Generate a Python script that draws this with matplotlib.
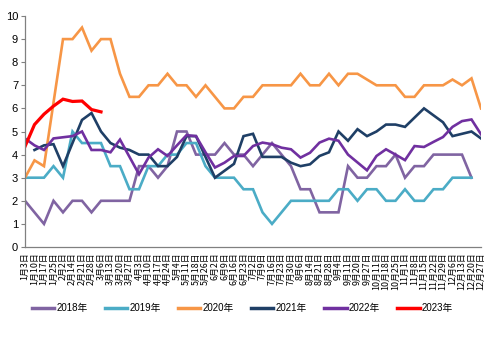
import matplotlib
matplotlib.use("Agg")
import matplotlib.pyplot as plt
import numpy as np

plt.rcParams['font.family'] = ['Liberation Sans', 'Noto Sans CJK SC', 'DejaVu Sans']

dates = ["1月3日", "1月10日", "1月17日", "1月25日", "2月2日", "2月14日", "2月21日", "2月28日",
         "3月6日", "3月13日", "3月20日", "3月27日", "4月3日", "4月10日", "4月17日", "4月24日",
         "5月4日", "5月11日", "5月18日", "5月26日", "6月2日", "6月9日", "6月16日", "6月23日",
         "7月2日", "7月9日", "7月16日", "7月23日", "7月30日", "8月6日", "8月14日", "8月21日",
         "8月28日", "9月4日", "9月11日", "9月20日", "9月27日", "10月11日", "10月18日", "10月25日",
         "11月1日", "11月8日", "11月15日", "11月22日", "11月29日", "12月6日", "12月13日", "12月20日",
         "12月27日"]

y2018 = [2, 1.5, 1, 2, 1.5, 2, 2, 1.5, 2, 2, 2, 2, 3.5, 3.5, 3, 3.5, 5, 5, 4, 4, 4, 4.5, 4, 4,
         3.5, 4, 4.5, 4, 3.5, 2.5, 2.5, 1.5, 1.5, 1.5, 3.5, 3, 3, 3.5, 3.5, 4, 3, 3.5, 3.5, 4, 4,
         4, 4, 3]
y2019 = [3, 3, 3, 3.5, 3, 5, 4.5, 4.5, 4.5, 3.5, 3.5, 2.5, 2.5, 3.5, 3.5, 4, 4, 4.5, 4.5, 3.5,
         3, 3, 3, 2.5, 2.5, 1.5, 1, 1.5, 2, 2, 2, 2, 2, 2.5, 2.5, 2, 2.5, 2.5, 2, 2, 2.5, 2, 2,
         2.5, 2.5, 3, 3, 3]
y2020 = [3, 3.75, 3.5, 6.25, 9, 9, 9.5, 8.5, 9, 9, 7.5, 6.5, 6.5, 7, 7, 7.5, 7, 7, 6.5, 7,
         6.5, 6, 6, 6.5, 6.5, 7, 7, 7, 7, 7.5, 7, 7, 7.5, 7, 7.5, 7.5, 7.25, 7, 7, 7, 6.5, 6.5,
         7, 7, 7, 7.25, 7, 7.3, 6]
y2021 = [None, 4.2, 4.4, 4.45, 3.5, 4.5, 5.5, 5.8, 5, 4.5, 4.3, 4.2, 4, 4, 3.5, 3.5, 3.9, 4.8,
         4.8, 3.9, 3, 3.3, 3.6, 4.8, 4.9, 3.9, 3.9, 3.9, 3.65, 3.5, 3.58, 3.94, 4.1, 5, 4.6, 5.1,
         4.8, 5.0, 5.3, 5.3, 5.2, 5.6, 6, 5.7, 5.4, 4.8, 4.9, 5.0, 4.7]
y2022 = [4.7, 4.4, 4.2, 4.7, 4.75, 4.8, 5.0, 4.2, 4.2, 4.1, 4.65, 3.9, 3.15, 3.87, 4.23, 3.94,
         4.4, 4.84, 4.8, 4.1, 3.44, 3.65, 3.94, 3.94, 4.37, 4.52, 4.45, 4.3, 4.23, 3.87, 4.08,
         4.52, 4.69, 4.6, 4.0, 3.66, 3.32, 3.94, 4.23, 4.0, 3.76, 4.37, 4.33, 4.55, 4.76, 5.2,
         5.45, 5.52, 4.88]
y2023 = [4.35, 5.3, 5.75, 6.1, 6.4, 6.3, 6.32, 5.95, 5.85]

series = [("2018年", y2018, "#8064A2", 1.9),
          ("2019年", y2019, "#4BACC6", 1.9),
          ("2020年", y2020, "#F79646", 1.9),
          ("2021年", y2021, "#1F3F66", 1.9),
          ("2022年", y2022, "#7030A0", 1.9),
          ("2023年", y2023, "#FF0000", 2.3)]

fig = plt.figure(figsize=(4.93, 3.41), dpi=100)
ax = fig.add_axes([25/493, 1-247/341, 456/493, 231/341])

for name, vals, color, lw in series:
    v = np.array([np.nan if a is None else a for a in vals], dtype=float)
    ax.plot(np.arange(len(v)), v, color=color, lw=lw, label=name, solid_joinstyle='miter')

ax.set_xlim(0, len(dates) - 1)
ax.set_ylim(0, 10)
ax.set_yticks(range(0, 11))
ax.set_xticks(range(len(dates)))
ax.set_xticklabels(dates, rotation=90, fontsize=6.4, family=['Noto Sans CJK SC'])
ax.tick_params(axis='x', length=0, pad=4)
ax.tick_params(axis='y', length=3, width=0.8, color='#808080', labelsize=8, pad=2)
for s in ['top', 'right']:
    ax.spines[s].set_visible(False)
for s in ['left', 'bottom']:
    ax.spines[s].set_color('#808080')
    ax.spines[s].set_linewidth(0.9)

leg = fig.legend(loc='center', bbox_to_anchor=(0.492, 0.097), ncol=6, frameon=False,
                 handlelength=2.3, handletextpad=0.25, columnspacing=1.75,
                 prop={'family': ['Liberation Sans', 'Noto Sans CJK SC'], 'size': 7})
for line in leg.get_lines():
    line.set_linewidth(2.5)

fig.savefig("out.png", dpi=100)
